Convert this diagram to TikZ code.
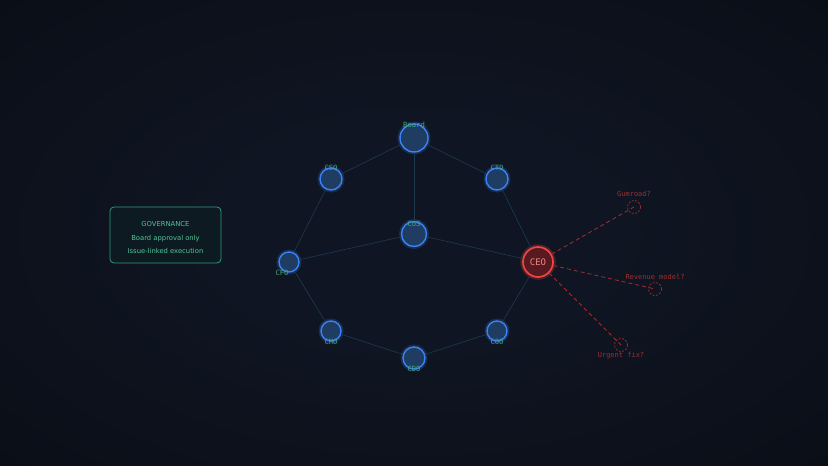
\documentclass[tikz,border=0pt]{standalone}
\usepackage{fontspec}
\setmainfont{DejaVu Sans}
\newfontfamily\monofont{DejaVu Sans Mono}
\definecolor{bgin}{HTML}{0F1522}
\definecolor{bgout}{HTML}{070A10}
\definecolor{linkc}{HTML}{1B374C}
\definecolor{rolefill}{HTML}{1F3D63}
\definecolor{roleline}{HTML}{3B82F6}
\definecolor{tagc}{HTML}{45A673}
\definecolor{ceofill}{HTML}{571A20}
\definecolor{ceoline}{HTML}{EF4444}
\definecolor{hintc}{HTML}{9C3030}
\definecolor{govline}{HTML}{2F9E78}
\definecolor{govfill}{HTML}{0E1A22}
\definecolor{govtext}{HTML}{4FC79A}
\pgfdeclareradialshading{vignette}{\pgfpoint{0bp}{0bp}}{color(0bp)=(bgin); color(12bp)=(bgin); color(50bp)=(bgout); color(75bp)=(bgout)}
\begin{document}
\begin{tikzpicture}[x=1pt, y=-1pt,
        role/.style={circle, draw=roleline, fill=rolefill, line width=1.4pt, inner sep=0pt,
            preaction={draw=roleline, draw opacity=0.22, line width=5pt}},
        ceon/.style={circle, draw=ceoline, fill=ceofill, line width=1.7pt, inner sep=0pt,
            minimum size=30pt, text=ceoline!65!white, font=\monofont\fontsize{9}{10}\selectfont,
            preaction={draw=ceoline, draw opacity=0.25, line width=5.5pt}},
        link/.style={draw=linkc, line width=0.7pt},
        hint/.style={draw=hintc, line width=0.8pt, dash pattern=on 4pt off 3pt},
        ghost/.style={circle, draw=hintc, line width=0.7pt, dash pattern=on 2pt off 1.5pt,
            minimum size=13pt, inner sep=0pt},
        tag/.style={text=tagc, font=\monofont\fontsize{7.2}{8}\selectfont, inner sep=0pt},
        htag/.style={text=hintc, font=\monofont\fontsize{7}{8}\selectfont, inner sep=0pt},
        govtxt/.style={text=govtext, font=\fontsize{6.8}{8}\selectfont, inner sep=0pt},
    ]
    \useasboundingbox (0,0) rectangle (828,466);
    \shade[shading=vignette] (0,0) rectangle (828,466);

    \node[role, minimum size=28pt](board) at (414,138) {};
    \node[role, minimum size=22pt](cso) at (331,179) {};
    \node[role, minimum size=22pt](cto) at (497,179) {};
    \node[role, minimum size=25pt](cos) at (414,234) {};
    \node[role, minimum size=20pt](cfo) at (289,262) {};
    \node[role, minimum size=20pt](cmo) at (331,331) {};
    \node[role, minimum size=20pt](coo) at (497,331) {};
    \node[role, minimum size=22pt](cdo) at (414,358) {};
    \node[ceon](ceo) at (538,262) {CEO};

    \draw[link] (board) -- (cso);
    \draw[link] (board) -- (cto);
    \draw[link] (board) -- (cos);
    \draw[link] (cso) -- (cfo);
    \draw[link] (cto) -- (ceo);
    \draw[link] (cfo) -- (cos);
    \draw[link] (cos) -- (ceo);
    \draw[link] (cfo) -- (cmo);
    \draw[link] (cmo) -- (cdo);
    \draw[link] (cdo) -- (coo);
    \draw[link] (coo) -- (ceo);

    \node[tag](tboard) at (414,125) {Board};
    \node[tag](tcso) at (331,168) {CSO};
    \node[tag](tcto) at (497,168) {CTO};
    \node[tag](tcos) at (414,224) {CoS};
    \node[tag](tcfo) at (282,273) {CFO};
    \node[tag](tcmo) at (331,342) {CMO};
    \node[tag](tcoo) at (497,342) {COO};
    \node[tag](tcdo) at (414,369) {CDO};

    \node[ghost](gum) at (634,207) {};
    \node[ghost](rev) at (655,289) {};
    \node[ghost](fix) at (621,345) {};
    \draw[hint] (ceo) -- (gum.center);
    \draw[hint] (ceo) -- (rev.center);
    \draw[hint] (ceo) -- (fix.center);
    \node[htag](tgum) at (634,194) {Gumroad?};
    \node[htag](trev) at (655,277) {Revenue model?};
    \node[htag](tfix) at (621,356) {Urgent fix?};

    \node[draw=govline, fill=govfill, line width=0.8pt, rounded corners=4pt,
        minimum width=111pt, minimum height=56pt](gov) at (165.5,235) {};
    \node[govtxt](govt) at (165.5,224) {GOVERNANCE};
    \node[govtxt](gova) at (165.5,239) {Board approval only};
    \node[govtxt](govb) at (165.5,251) {Issue-linked execution};
\end{tikzpicture}
\end{document}
